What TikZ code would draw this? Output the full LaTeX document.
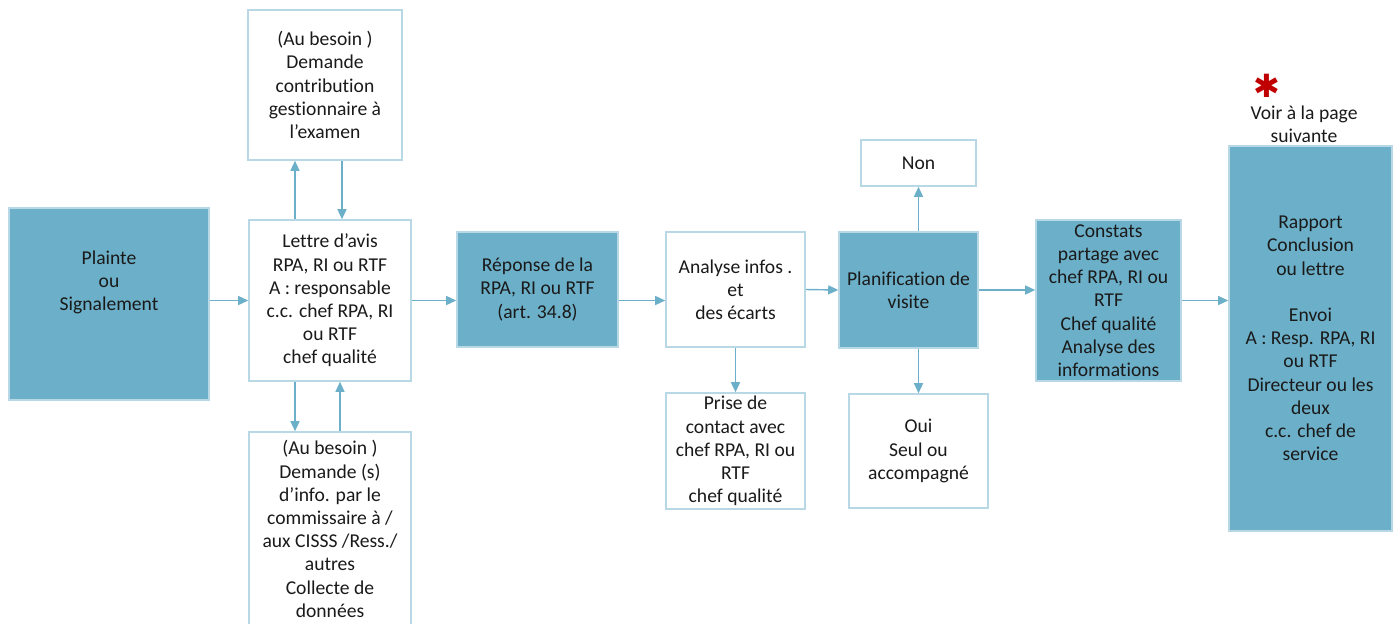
\documentclass[tikz,border=0pt]{standalone}
\usepackage{fontspec}
\setmainfont{Carlito}[Ligatures=NoCommon]
\newfontfamily\symbolfont{DejaVu Sans}
\usetikzlibrary{arrows.meta}
\definecolor{BoxBlue}{HTML}{6BAFC8}
\definecolor{EdgeBlue}{HTML}{B7D8E4}
\definecolor{LineBlue}{HTML}{6BAFC8}
\definecolor{StarRed}{HTML}{C00000}
\definecolor{TextDark}{HTML}{1A1A1A}

\begin{document}
\begin{tikzpicture}[x=0.5pt, y=-0.5pt,
  every node/.style={font=\fontsize{9.8}{11.6}\selectfont, text=TextDark, align=center, inner sep=0pt},
  plainbox/.style={draw=EdgeBlue, line width=0.8pt, fill=white},
  filledbox/.style={draw=EdgeBlue, line width=0.8pt, fill=BoxBlue},
  arr/.style={draw=LineBlue, line width=0.7pt, -{Triangle[length=5pt, width=4.5pt]}}]
  \useasboundingbox (0,0) rectangle (1397,623);

  \node[filledbox, minimum width=100pt, minimum height=96pt] (plainte) at (109,304) {Plainte\\ou\\Signalement\\~\\~};
  \node[plainbox, minimum width=81pt, minimum height=80.5pt] (lettre) at (330,300.5) {Lettre d’avis\\RPA, RI ou RTF\\A : responsable\\c.c. chef RPA, RI\\ou RTF\\chef qualité};
  \node[plainbox, minimum width=77pt, minimum height=75pt] (besoinA) at (325,85) {(Au besoin )\\Demande\\contribution\\gestionnaire à\\l’examen};
  \node[plainbox, minimum width=81pt, minimum height=97pt] (besoinB) at (330,529) {(Au besoin )\\Demande (s)\\d’info. par le\\commissaire à /\\aux CISSS /Ress./\\autres\\Collecte de\\données};
  \node[filledbox, minimum width=80.5pt, minimum height=57.5pt] (reponse) at (537.5,289.5) {Réponse de la\\RPA, RI ou RTF\\(art. 34.8)};
  \node[plainbox, minimum width=69.5pt, minimum height=57.5pt] (analyse) at (735.5,289.5) {Analyse infos .\\et\\des écarts};
  \node[plainbox, minimum width=69.5pt, minimum height=58pt] (prise) at (735.5,451) {Prise de\\contact avec\\chef RPA, RI ou\\RTF\\chef qualité};
  \node[filledbox, minimum width=69.5pt, minimum height=58pt] (plan) at (908.5,290) {Planification de\\visite};
  \node[plainbox, minimum width=57.5pt, minimum height=23pt] (non) at (918.5,163) {Non};
  \node[plainbox, minimum width=69.5pt, minimum height=57pt] (oui) at (918.5,451) {Oui\\Seul ou\\accompagné};
  \node[filledbox, minimum width=72.5pt, minimum height=80.5pt] (constats) at (1108.5,300.5) {Constats\\partage avec\\chef RPA, RI ou\\RTF\\Chef qualité\\Analyse des\\informations};
  \node[filledbox, minimum width=81.5pt, minimum height=192.5pt] (rapport) at (1310.5,338.5) {Rapport\\Conclusion\\ou lettre\\~\\Envoi\\A : Resp. RPA, RI\\ou RTF\\Directeur ou les\\deux\\c.c. chef de\\service};
  \node[text=StarRed, font=\symbolfont\fontsize{16}{16}\selectfont] (star) at (1267,86) {✱};
  \node (voir) at (1304,124) {Voir à la page\\suivante};

  \draw[arr] (plainte.east |- lettre.west) -- (lettre.west);
  \draw[arr] ([xshift=-17.5pt]lettre.north) -- ([xshift=-17.5pt]lettre.north |- besoinA.south);
  \draw[arr] ([xshift=6pt]lettre.north |- besoinA.south) -- ([xshift=6pt]lettre.north);
  \draw[arr] ([xshift=-17.5pt]lettre.south) -- ([xshift=-17.5pt]lettre.south |- besoinB.north);
  \draw[arr] ([xshift=5pt]lettre.south |- besoinB.north) -- ([xshift=5pt]lettre.south);
  \draw[arr] (lettre.east) -- (reponse.west |- lettre.east);
  \draw[arr] (reponse.east |- lettre.east) -- (analyse.west |- lettre.east);
  \draw[arr] (analyse.east) -- (plan.west);
  \draw[arr] (analyse.south) -- (prise.north);
  \draw[arr] (plan.north -| non.south) -- (non.south);
  \draw[arr] (plan.south -| oui.north) -- (oui.north);
  \draw[arr] (plan.east) -- (constats.west |- plan.east);
  \draw[arr] (constats.east) -- (rapport.west |- constats.east);
\end{tikzpicture}
\end{document}
